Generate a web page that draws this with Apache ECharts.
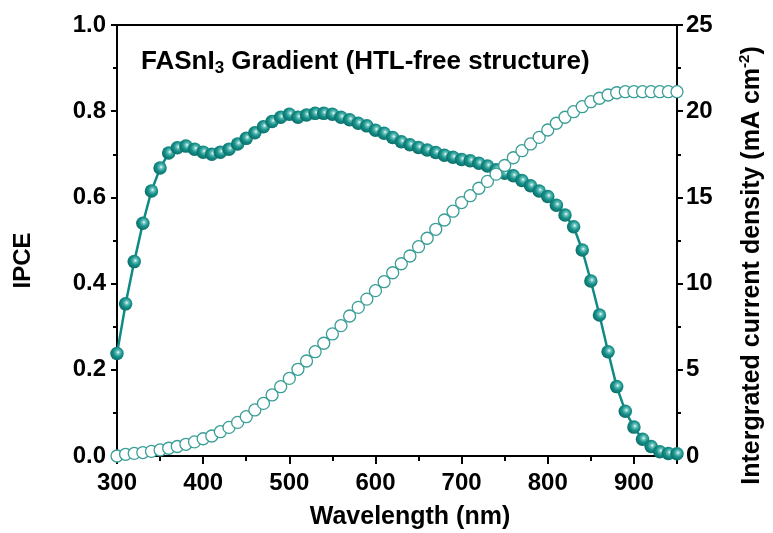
<!DOCTYPE html>
<html>
<head>
<meta charset="utf-8">
<script src="https://cdn.jsdelivr.net/npm/echarts@6/dist/echarts.min.js"></script>
<style>
  html, body { margin: 0; padding: 0; background: #fff; }
  #main { width: 773px; height: 533px; }
</style>
</head>
<body>
<div id="main"></div>
<script>
// wavelength (nm)
const wavelengths = [300, 310, 320, 330, 340, 350, 360, 370, 380, 390,
  400, 410, 420, 430, 440, 450, 460, 470, 480, 490,
  500, 510, 520, 530, 540, 550, 560, 570, 580, 590,
  600, 610, 620, 630, 640, 650, 660, 670, 680, 690,
  700, 710, 720, 730, 740, 750, 760, 770, 780, 790,
  800, 810, 820, 830, 840, 850, 860, 870, 880, 890,
  900, 910, 920, 930, 940, 950]

// IPCE (left axis)
const ipce = [0.238, 0.353, 0.451, 0.540, 0.615, 0.668, 0.703, 0.715, 0.719, 0.712,
  0.705, 0.700, 0.705, 0.712, 0.724, 0.737, 0.750, 0.764, 0.776, 0.786,
  0.793, 0.786, 0.791, 0.795, 0.795, 0.793, 0.786, 0.780, 0.772, 0.766,
  0.756, 0.749, 0.739, 0.729, 0.722, 0.716, 0.710, 0.704, 0.698, 0.693,
  0.688, 0.685, 0.679, 0.673, 0.664, 0.656, 0.650, 0.639, 0.627, 0.615,
  0.602, 0.582, 0.559, 0.532, 0.478, 0.406, 0.327, 0.242, 0.161, 0.104,
  0.067, 0.039, 0.022, 0.010, 0.006, 0.005]

// integrated current density, mA cm-2 (right axis)
const jsc = [0, 0.10, 0.15, 0.20, 0.27, 0.35, 0.45, 0.55, 0.68, 0.82,
  1.00, 1.16, 1.41, 1.66, 1.95, 2.28, 2.67, 3.05, 3.54, 4.02,
  4.50, 5.03, 5.51, 6.05, 6.54, 7.08, 7.56, 8.12, 8.62, 9.10,
  9.59, 10.11, 10.63, 11.15, 11.60, 12.14, 12.63, 13.15, 13.69, 14.20,
  14.70, 15.10, 15.53, 15.93, 16.35, 16.85, 17.30, 17.71, 18.10, 18.48,
  18.91, 19.30, 19.65, 19.97, 20.26, 20.55, 20.75, 20.94, 21.07, 21.13,
  21.13, 21.13, 21.13, 21.13, 21.13, 21.13]

const teal = '#108a84'
const mainFont = '"Liberation Sans", Arial, Helvetica, sans-serif'

const chart = echarts.init(document.getElementById('main'))

const axisCommon = {
  axisLine: { show: true, lineStyle: { color: '#000', width: 2 } },
  axisTick: { show: true, inside: false, length: 6, lineStyle: { color: '#000', width: 2 } },
  minorTick: { show: true, splitNumber: 2, length: 4, lineStyle: { color: '#000', width: 2 } },
  splitLine: { show: false },
  axisLabel: { color: '#000', fontFamily: mainFont, fontWeight: 'bold', fontSize: 24, margin: 11 },
  nameTextStyle: { color: '#000', fontFamily: mainFont, fontWeight: 'bold', fontSize: 25 }
}

const option = {
  animation: false,
  backgroundColor: '#fff',
  title: {
    text: '{a|FASnI}{b|3}{a| Gradient (HTL-free structure)}',
    left: 136,
    top: 42,
    textStyle: {
      rich: {
        a: { fontFamily: mainFont, fontWeight: 'bold', fontSize: 26, color: '#000', lineHeight: 30 },
        b: { fontFamily: mainFont, fontWeight: 'bold', fontSize: 17, color: '#000', padding: [13, 0, 0, 0] }
      }
    }
  },
  grid: {
    left: 117,
    right: 96,
    top: 25,
    bottom: 77,
    containLabel: false,
    outerBoundsMode: 'none',
    show: true,
    borderColor: '#000',
    borderWidth: 2
  },
  xAxis: Object.assign({}, axisCommon, {
    type: 'value',
    min: 300,
    max: 950,
    interval: 100,
    name: 'Wavelength (nm)',
    nameLocation: 'middle',
    nameGap: 49,
    nameTextStyle: Object.assign({}, axisCommon.nameTextStyle, { padding: [0, 0, 0, 26] }),
    axisTick: Object.assign({}, axisCommon.axisTick, { length: 8 }),
    minorTick: Object.assign({}, axisCommon.minorTick, { length: 5 }),
    axisLabel: Object.assign({}, axisCommon.axisLabel, { margin: 15, showMaxLabel: false })
  }),
  yAxis: [
    Object.assign({}, axisCommon, {
      type: 'value',
      min: 0,
      max: 1,
      interval: 0.2,
      name: 'IPCE',
      nameLocation: 'middle',
      nameGap: 82,
      nameTextStyle: Object.assign({}, axisCommon.nameTextStyle, { fontSize: 24, padding: [0, 0, 0, -40] }),
      axisLabel: Object.assign({}, axisCommon.axisLabel, {
        formatter: function (v) { return v.toFixed(1) }
      })
    }),
    Object.assign({}, axisCommon, {
      type: 'value',
      min: 0,
      max: 25,
      interval: 5,
      position: 'right',
      name: '{a|Intergrated current density (mA cm}{b|-2}{a|)}',
      nameLocation: 'middle',
      nameGap: 60,
      nameRotate: 90,
      nameTextStyle: {
        padding: [0, 0, 0, -50],
        rich: {
          a: { fontFamily: mainFont, fontWeight: 'bold', fontSize: 25, color: '#000', lineHeight: 30 },
          b: { fontFamily: mainFont, fontWeight: 'bold', fontSize: 15, color: '#000', padding: [0, 0, 14, 0] }
        }
      },
      axisLabel: Object.assign({}, axisCommon.axisLabel, { margin: 9 })
    })
  ],
  series: [
    {
      name: 'IPCE',
      type: 'line',
      yAxisIndex: 0,
      data: wavelengths.map((w, i) => [w, ipce[i]]),
      symbol: 'circle',
      symbolSize: 13.5,
      lineStyle: { color: teal, width: 2.5 },
      itemStyle: {
        color: {
          type: 'radial', x: 0.58, y: 0.42, r: 0.6,
          colorStops: [
            { offset: 0, color: '#f2fffe' },
            { offset: 0.22, color: '#6cc2bc' },
            { offset: 0.55, color: '#17918b' },
            { offset: 1, color: '#0a6c66' }
          ]
        },
        borderWidth: 0
      },
      z: 2
    },
    {
      name: 'Jsc',
      type: 'line',
      yAxisIndex: 1,
      data: wavelengths.map((w, i) => [w, jsc[i]]),
      symbol: 'circle',
      symbolSize: 12,
      showAllSymbol: true,
      lineStyle: { width: 0, opacity: 0 },
      itemStyle: { color: '#fff', borderColor: '#3a9e97', borderWidth: 1.3 },
      z: 3
    }
  ]
}

chart.setOption(option)
</script>
</body>
</html>
